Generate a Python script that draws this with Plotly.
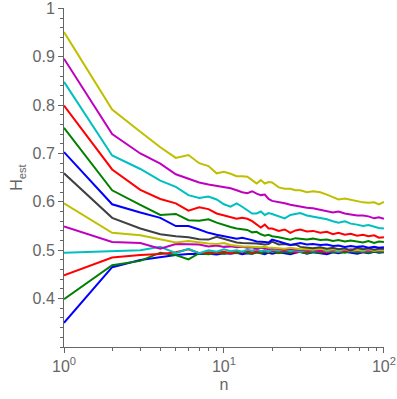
import plotly.graph_objects as go

n_vals = [1, 2, 3, 4, 5, 6, 7, 8, 9, 10, 11, 12, 13, 14, 15, 16, 17, 18, 19, 20,
          22, 24, 26, 28, 30, 33, 36, 40, 44, 48, 52, 57, 62, 68, 74, 80, 87, 93, 100]

blue_035 = [0.350, 0.465, 0.480, 0.486, 0.490, 0.492, 0.492, 0.493, 0.491, 0.494, 0.493, 0.495, 0.492, 0.494, 0.493, 0.496, 0.494, 0.492, 0.495, 0.493,
            0.496, 0.494, 0.492, 0.495, 0.497, 0.493, 0.496, 0.494, 0.492, 0.496, 0.494, 0.497, 0.495, 0.493, 0.496, 0.494, 0.497, 0.495, 0.496]
green_040 = [0.399, 0.469, 0.478, 0.495, 0.490, 0.481, 0.494, 0.492, 0.495, 0.493, 0.496, 0.494, 0.497, 0.495, 0.493, 0.496, 0.494, 0.497, 0.495, 0.498,
             0.494, 0.497, 0.495, 0.498, 0.496, 0.494, 0.497, 0.495, 0.498, 0.496, 0.497, 0.495, 0.498, 0.496, 0.497, 0.495, 0.498, 0.496, 0.497]
red_045 = [0.448, 0.485, 0.490, 0.492, 0.496, 0.502, 0.494, 0.496, 0.495, 0.497, 0.494, 0.498, 0.496, 0.499, 0.495, 0.498, 0.497, 0.500, 0.496, 0.499,
           0.497, 0.500, 0.498, 0.496, 0.499, 0.497, 0.500, 0.498, 0.496, 0.499, 0.497, 0.500, 0.498, 0.499, 0.497, 0.500, 0.498, 0.499, 0.498]
cyan_050 = [0.495, 0.499, 0.500, 0.507, 0.494, 0.503, 0.494, 0.500, 0.497, 0.502, 0.498, 0.500, 0.497, 0.501, 0.499, 0.502, 0.498, 0.500, 0.497, 0.501,
            0.499, 0.502, 0.498, 0.500, 0.497, 0.501, 0.499, 0.502, 0.498, 0.500, 0.497, 0.501, 0.499, 0.500, 0.498, 0.501, 0.499, 0.500, 0.499]
magenta_055 = [0.549, 0.517, 0.515, 0.503, 0.513, 0.512, 0.512, 0.508, 0.510, 0.507, 0.508, 0.506, 0.507, 0.505, 0.506, 0.503, 0.505, 0.504, 0.502, 0.504,
               0.503, 0.501, 0.503, 0.502, 0.500, 0.502, 0.501, 0.499, 0.502, 0.500, 0.501, 0.499, 0.502, 0.500, 0.501, 0.499, 0.501, 0.500, 0.502]
yellow_060 = [0.597, 0.536, 0.531, 0.522, 0.516, 0.519, 0.516, 0.514, 0.513, 0.515, 0.511, 0.509, 0.508, 0.508, 0.507, 0.506, 0.506, 0.507, 0.505, 0.505,
              0.504, 0.503, 0.505, 0.503, 0.502, 0.503, 0.501, 0.503, 0.500, 0.502, 0.500, 0.502, 0.499, 0.501, 0.500, 0.502, 0.499, 0.501, 0.500]
black_066 = [0.659, 0.567, 0.545, 0.533, 0.529, 0.527, 0.523, 0.522, 0.528, 0.524, 0.519, 0.516, 0.515, 0.515, 0.514, 0.514, 0.513, 0.512, 0.513, 0.518,
             0.512, 0.513, 0.511, 0.512, 0.507, 0.505, 0.504, 0.506, 0.503, 0.505, 0.502, 0.504, 0.499, 0.505, 0.502, 0.504, 0.501, 0.503, 0.503]
blue_070 = [0.703, 0.595, 0.578, 0.567, 0.550, 0.550, 0.543, 0.536, 0.532, 0.529, 0.525, 0.524, 0.526, 0.524, 0.521, 0.518, 0.518, 0.517, 0.516, 0.522,
            0.518, 0.514, 0.511, 0.513, 0.515, 0.512, 0.513, 0.511, 0.512, 0.509, 0.510, 0.507, 0.509, 0.507, 0.508, 0.505, 0.507, 0.505, 0.506]
green_076 = [0.753, 0.624, 0.594, 0.573, 0.575, 0.562, 0.561, 0.564, 0.557, 0.552, 0.548, 0.545, 0.543, 0.542, 0.537, 0.538, 0.533, 0.530, 0.532, 0.529,
             0.527, 0.525, 0.522, 0.525, 0.524, 0.522, 0.524, 0.521, 0.522, 0.519, 0.521, 0.518, 0.520, 0.518, 0.516, 0.519, 0.515, 0.518, 0.517]
red_080 = [0.799, 0.667, 0.625, 0.606, 0.597, 0.582, 0.589, 0.585, 0.576, 0.572, 0.569, 0.565, 0.567, 0.565, 0.560, 0.553, 0.547, 0.553, 0.545, 0.545,
           0.540, 0.543, 0.536, 0.541, 0.543, 0.539, 0.540, 0.536, 0.538, 0.533, 0.536, 0.532, 0.534, 0.530, 0.532, 0.529, 0.531, 0.526, 0.527]
cyan_085 = [0.848, 0.696, 0.668, 0.644, 0.631, 0.614, 0.608, 0.611, 0.605, 0.595, 0.590, 0.597, 0.590, 0.583, 0.576, 0.576, 0.580, 0.573, 0.577, 0.575,
            0.570, 0.566, 0.573, 0.575, 0.577, 0.572, 0.570, 0.567, 0.564, 0.560, 0.557, 0.560, 0.555, 0.553, 0.550, 0.552, 0.548, 0.546, 0.545]
magenta_090 = [0.896, 0.740, 0.700, 0.679, 0.657, 0.648, 0.640, 0.636, 0.633, 0.631, 0.628, 0.624, 0.620, 0.618, 0.622, 0.617, 0.614, 0.615, 0.606, 0.602,
               0.600, 0.597, 0.594, 0.592, 0.590, 0.588, 0.587, 0.584, 0.582, 0.578, 0.580, 0.576, 0.574, 0.572, 0.572, 0.570, 0.566, 0.568, 0.565]
yellow_095 = [0.951, 0.791, 0.745, 0.713, 0.691, 0.697, 0.680, 0.674, 0.659, 0.662, 0.658, 0.653, 0.653, 0.652, 0.645, 0.638, 0.645, 0.638, 0.641, 0.640,
              0.630, 0.627, 0.627, 0.624, 0.624, 0.620, 0.622, 0.620, 0.615, 0.610, 0.605, 0.607, 0.604, 0.601, 0.599, 0.598, 0.599, 0.595, 0.600]

series = [blue_035, green_040, red_045, cyan_050, magenta_055, yellow_060, black_066,
          blue_070, green_076, red_080, cyan_085, magenta_090, yellow_095]
colors = ["#0000FF", "#008000", "#FF0000", "#00BFBF", "#BF00BF", "#BFBF00", "#404040"]

fig = go.Figure()
for i, s in enumerate(series):
    fig.add_trace(go.Scatter(x=n_vals, y=s, mode="lines",
                             line=dict(color=colors[i % len(colors)], width=2),
                             showlegend=False, cliponaxis=False))

axis_color = "#666666"
font_family = "Liberation Sans, Arial, Helvetica, sans-serif"

y_major = [0.4, 0.5, 0.6, 0.7, 0.8, 0.9, 1.0]
y_labels = ["0.4", "0.5", "0.6", "0.7", "0.8", "0.9", "1"]
y_minor = [round(0.30 + 0.02 * k, 2) for k in range(36)]
x_major = [1, 10, 100]
x_labels = ["10<sup>0</sup>", "10<sup>1</sup>", "10<sup>2</sup>"]
x_minor = [2, 3, 4, 5, 6, 7, 8, 9, 20, 30, 40, 50, 60, 70, 80, 90]

fig.update_layout(
    width=397, height=399,
    margin=dict(l=64, r=13, t=8, b=52),
    paper_bgcolor="white", plot_bgcolor="white",
    font=dict(family=font_family, color=axis_color, size=16),
    xaxis=dict(
        type="log", range=[0, 2.0005], automargin=False, ticklabeloverflow="allow",
        tickmode="array", tickvals=x_major, ticktext=x_labels,
        ticks="outside", ticklen=5, tickwidth=1, tickcolor=axis_color,
        minor=dict(tickvals=x_minor, ticks="outside", ticklen=3, tickcolor=axis_color),
        showline=True, linecolor=axis_color, linewidth=1,
        showgrid=False, zeroline=False,
        tickfont=dict(size=16, color=axis_color),
        title=dict(text="n", font=dict(size=16, color=axis_color), standoff=4),
    ),
    yaxis=dict(
        range=[0.3, 1.0008], automargin=False, ticklabeloverflow="allow",
        tickmode="array", tickvals=y_major, ticktext=y_labels,
        ticks="outside", ticklen=5, tickwidth=1, tickcolor=axis_color,
        minor=dict(tickvals=y_minor, ticks="outside", ticklen=3, tickcolor=axis_color),
        showline=True, linecolor=axis_color, linewidth=1,
        showgrid=False, zeroline=False,
        tickfont=dict(size=16, color=axis_color),
        title=dict(text="H<sub>est</sub>", font=dict(size=16, color=axis_color), standoff=5),
    ),
)

fig.write_html("out.html", config={"displayModeBar": False},
               post_script="document.body.style.margin='0';")
